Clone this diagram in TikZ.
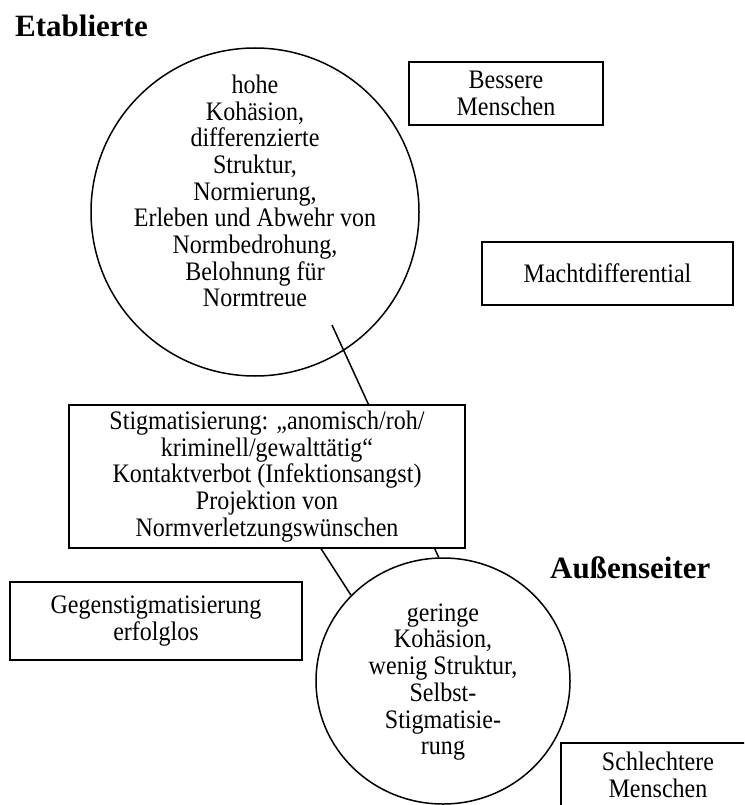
\documentclass[tikz,border=0pt]{standalone}
\usepackage{fontspec}
\setmainfont{Liberation Serif}
\newfontfamily\bodyfont[FakeStretch=0.9]{Liberation Serif}
\usetikzlibrary{shapes.geometric,calc}

\tikzset{
  textbox/.style={draw, fill=white, line width=1.5pt, align=center, inner sep=0pt,
    font=\bodyfont\fontsize{26.7}{26.7}\selectfont},
  groupring/.style={ellipse, draw, line width=1.5pt, inner sep=0pt},
  grouptext/.style={align=center, inner sep=0pt, font=\bodyfont\fontsize{26.7}{26.7}\selectfont},
  title/.style={anchor=base west, inner sep=0pt, font=\bfseries\fontsize{31}{34}\selectfont},
}

\begin{document}
\begin{tikzpicture}[x=1pt, y=-1pt]
        \useasboundingbox (0,0) rectangle (744,805);
        \clip (0,0) rectangle (744,805);

        \node (etab) at (255, 212) [groupring, minimum width=328pt, minimum height=328pt] {};
        \node (etabtext) at (255, 191) [grouptext] {hohe\\Kohäsion,\\differenzierte\\Struktur,\\Normierung,\\Erleben und Abwehr von\\Normbedrohung,\\Belohnung für\\Normtreue};

        \node (aussen) at (443, 681) [groupring, minimum width=254pt, minimum height=246pt] {};
        \node (aussentext) at (443, 682) [grouptext] {geringe\\Kohäsion,\\wenig Struktur,\\Selbst-\\Stigmatisie-\\rung};

        \node (etabtitle) at (15, 37) [title] {Etablierte};
        \node (aussentitle) at (550, 578) [title] {Außenseiter};

        \coordinate (etabin) at (332, 325);
        \draw[line width=1.5pt] (etabin) -- (aussen.92);

        \node (stigma) at (267, 476.5) [textbox, minimum width=396pt, minimum height=143pt] {Stigmatisierung: „anomisch/roh/\\kriminell/gewalttätig“\\Kontaktverbot (Infektionsangst)\\Projektion von\\Normverletzungswünschen};
        \coordinate (stigmaout) at ($(stigma.south west)!0.636!(stigma.south east)$);
        \draw[line width=1.5pt] (stigmaout) -- (aussen.137);

        \node (besser) at (506, 93.5) [textbox, minimum width=194pt, minimum height=63pt] {Bessere\\Menschen};
        \node (macht) at (607.5, 273.5) [textbox, minimum width=251pt, minimum height=63pt] {Machtdifferential};
        \node (gegen) at (156, 621) [textbox, minimum width=292pt, minimum height=78pt] {Gegenstigmatisierung\\erfolglos};
        \node (schlecht) at (658, 775) [textbox, minimum width=194pt, minimum height=64pt] {Schlechtere\\Menschen};

    \end{tikzpicture}
\end{document}
